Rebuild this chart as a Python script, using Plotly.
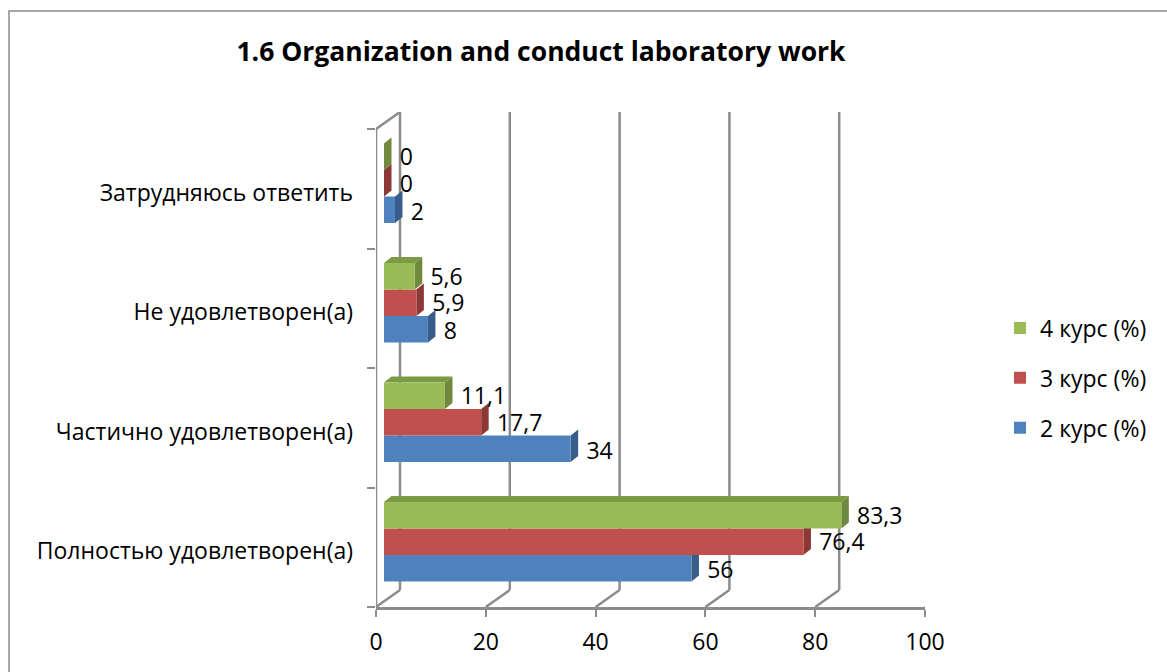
import plotly.graph_objects as go

# ---------------- data ----------------
categories = ["Полностью удовлетворен(а)", "Частично удовлетворен(а)",
              "Не удовлетворен(а)", "Затрудняюсь ответить"]   # bottom -> top
series_names = ["2 курс (%)", "3 курс (%)", "4 курс (%)"]
kurs2 = [56, 34, 8, 2]
kurs3 = [76.4, 17.7, 5.9, 0]
kurs4 = [83.3, 11.1, 5.6, 0]
x_ticks = [0, 20, 40, 60, 80, 100]
title_text = "1.6 Organization and conduct laboratory work"

# ---------------- styles ----------------
W, H = 1167, 672
L, R, T, B = 376, 925, 112, 607           # front plane of plot area, px
CAT_PX = 119.5                            # px per category band
FONT = "Open Sans"
front_colors = ["#4F81BD", "#C0504D", "#9BBB59"]
side_colors = ["#385D8A", "#8C3836", "#71893F"]
top_color = "#7A9A43"
grid_col = "#8C8C8C"

ux = 100 / (R - L)          # x units per px
uy = 1 / CAT_PX             # y units per px
x_range = [0, 100]
y_range = [-0.5, -0.5 + (B - T) * uy]
depth_x, depth_y = 24 * ux, 17 * uy       # back-wall offset of the 3-D frame
bar_depth = 8 * ux                        # bars sit slightly behind front plane
x2_range = [x_range[0] - bar_depth, x_range[1] - bar_depth]

bar_w = 26.5 * uy
shift = 5.5 * uy
dx = 7.5 * ux
dy = 6 * uy
label_gap = 1.5
label_drop = [4 * uy, 2.5 * uy, 2.5 * uy]   # small vertical nudge of value labels

all_series = [kurs2, kurs3, kurs4]


def fmt(v):
    return f"{v:g}".replace(".", ",")


fig = go.Figure()
shapes = []
line_style = dict(color=grid_col, width=2.5)

# 3-D frame: back grid lines and floor connectors
for t in x_ticks:
    shapes.append(dict(type="line", xref="x", yref="y", layer="below",
                       x0=t + depth_x, x1=t + depth_x,
                       y0=y_range[0] + depth_y, y1=y_range[1], line=line_style))
    shapes.append(dict(type="line", xref="x", yref="y", layer="below",
                       x0=t, x1=t + depth_x, y0=y_range[0],
                       y1=y_range[0] + depth_y, line=line_style))
# left wall (front edge + top slant)
shapes.append(dict(type="line", xref="x", yref="y", layer="below",
                   x0=0, x1=0, y0=-0.5, y1=len(categories) - 0.5, line=line_style))
shapes.append(dict(type="line", xref="x", yref="y", layer="below",
                   x0=0, x1=depth_x, y0=len(categories) - 0.5, y1=y_range[1],
                   line=line_style))

for i, (name, vals) in enumerate(zip(series_names, all_series)):
    ys = [j + shift + (i - 1) * bar_w for j in range(len(categories))]
    fig.add_trace(go.Bar(
        orientation="h", x=vals, y=ys, width=bar_w, name=name, xaxis="x2",
        marker=dict(color=front_colors[i], line=dict(width=0)),
        legendgroup=name, legendrank=len(series_names) - i, hoverinfo="skip",
    ))
    fig.add_trace(go.Scatter(
        x=[v + dx + label_gap for v in vals], y=[y - label_drop[i] for y in ys],
        mode="text", xaxis="x2",
        text=[fmt(v) for v in vals], textposition="middle right",
        textfont=dict(family=FONT, size=23, color="black"),
        showlegend=False, hoverinfo="skip", legendgroup=name,
    ))
    for v, yc in zip(vals, ys):
        yb, yt = yc - bar_w / 2, yc + bar_w / 2
        e = v + bar_depth          # bar end expressed on the front-plane axis
        s0 = bar_depth             # bar start on the front-plane axis
        shapes.append(dict(
            type="path", xref="x", yref="y", layer="between",
            path=f"M {e},{yb} L {e},{yt} L {e+dx},{yt+dy} L {e+dx},{yb+dy} Z",
            fillcolor=side_colors[i], line=dict(width=0)))
        if i == len(all_series) - 1:
            shapes.append(dict(
                type="path", xref="x", yref="y", layer="between",
                path=f"M {s0},{yt} L {e},{yt} L {e+dx},{yt+dy} L {s0+dx},{yt+dy} Z",
                fillcolor=top_color, line=dict(width=0)))

# outer chart border
px_x = lambda p: (p - L) / (R - L)
px_y = lambda p: (B - p) / (B - T)
shapes.append(dict(type="rect", xref="paper", yref="paper",
                   x0=px_x(9), x1=px_x(1200), y0=px_y(700), y1=px_y(11),
                   line=dict(color="#8A8A8A", width=1.5), fillcolor="rgba(0,0,0,0)",
                   layer="below"))

fig.update_layout(
    width=W, height=H,
    margin=dict(l=L, r=W - R, t=T, b=H - B, pad=0),
    paper_bgcolor="white", plot_bgcolor="white",
    barmode="overlay",
    font=dict(family=FONT, size=23, color="black"),
    title=dict(text=f"<b>{title_text}</b>", x=541 / W, xanchor="center",
               y=1 - 52 / H, yanchor="middle", xref="container", yref="container",
               font=dict(family=FONT, size=26.5, color="black")),
    showlegend=True,
    legend=dict(x=px_x(1000), xanchor="left", y=px_y(378), yanchor="middle",
                traceorder="grouped", tracegroupgap=17,
                font=dict(family=FONT, size=23, color="black"),
                bgcolor="rgba(0,0,0,0)"),
    xaxis=dict(range=x_range, tickvals=x_ticks, showgrid=False,
               zeroline=False, showline=True, linecolor=grid_col,
               linewidth=2.5, ticks="outside", ticklen=7, tickcolor=grid_col,
               tickwidth=2, ticklabelstandoff=6,
               tickfont=dict(family=FONT, size=23, color="black")),
    xaxis2=dict(range=x2_range, overlaying="x", visible=False, showgrid=False,
                zeroline=False),
    yaxis=dict(range=y_range, tickvals=[j - 0.035 for j in range(len(categories))],
               ticktext=categories, showgrid=False, zeroline=False, showline=False,
               ticks="", ticklabelstandoff=22,
               minor=dict(tickvals=[j - 0.5 for j in range(len(categories) + 1)],
                          ticks="outside", ticklen=8, tickcolor=grid_col,
                          tickwidth=2, showgrid=False),
               tickfont=dict(family=FONT, size=23, color="black")),
    shapes=shapes,
)

fig.write_html("out.html", config={"displayModeBar": False},
               post_script="document.body.style.margin='0';"
                           "document.body.style.overflow='hidden';")
